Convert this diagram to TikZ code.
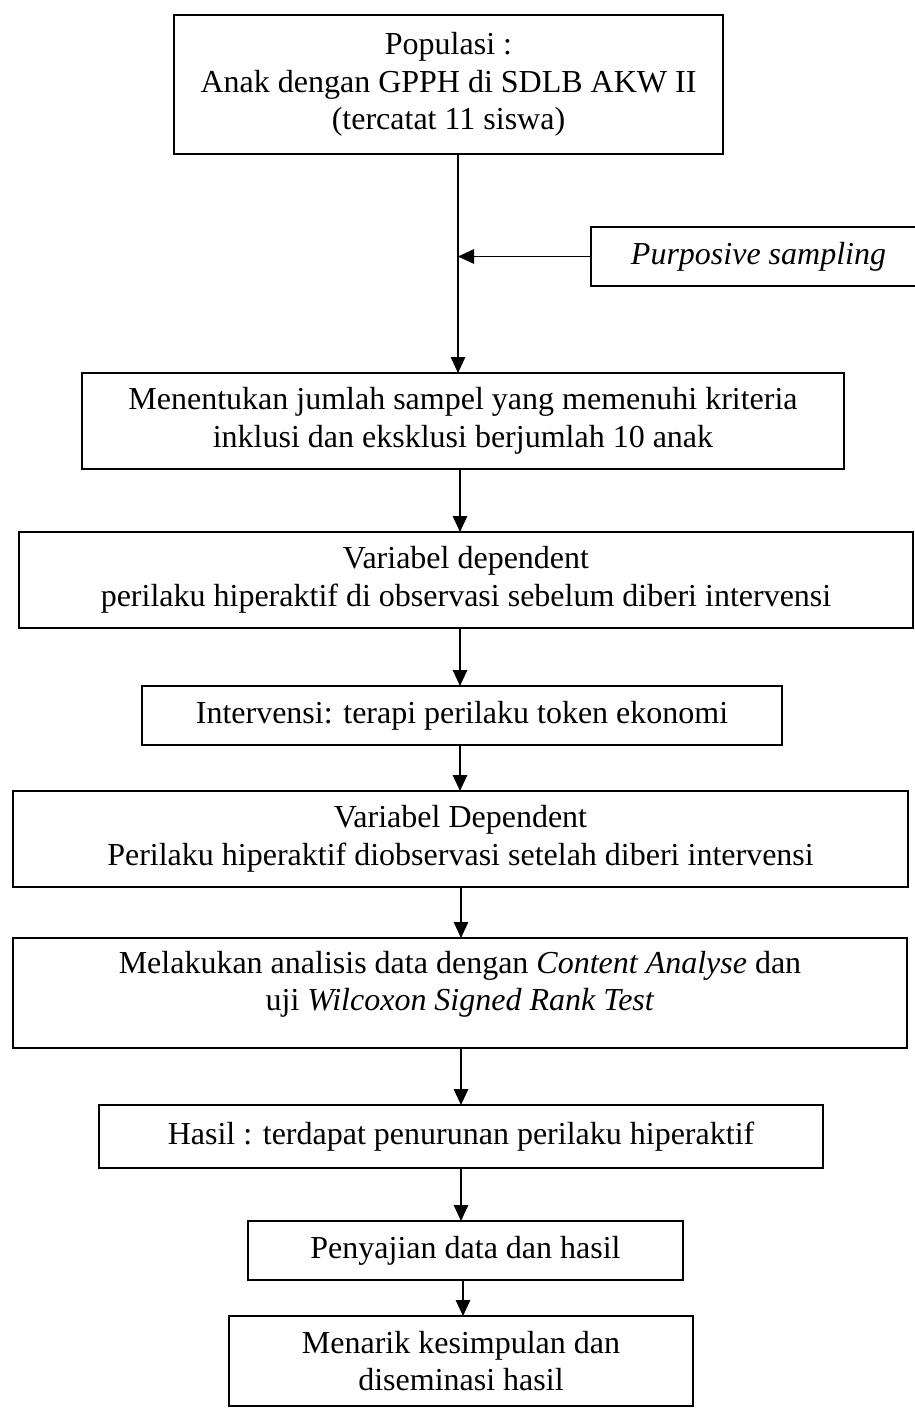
\documentclass[tikz,border=0pt]{standalone}
\usepackage{fontspec}
\setmainfont{Liberation Serif}
\usetikzlibrary{arrows.meta}
\begin{document}
\begin{tikzpicture}[x=0.5pt,y=-0.5pt,
  box/.style={draw, line width=1.05pt, inner sep=0pt, outer sep=0pt, align=center,
    font=\fontsize{16}{18.75}\selectfont},
  plain/.style={inner sep=0pt, align=center, font=\fontsize{16}{18.75}\selectfont},
  arr/.style={line width=0.85pt, -{Triangle[length=8pt,width=7.2pt]}}]
\useasboundingbox (0,0) rectangle (915,1408);

\node[box, minimum width=274.5pt, minimum height=69.5pt] (b1) at (448.5,84.5)
  {Populasi :\\ Anak dengan GPPH di SDLB AKW II\\ (tercatat 11 siswa)};
\node[box, minimum width=167.5pt, minimum height=29.5pt] (ps) at (758.5,256.5)
  {\textit{Purposive sampling}};
\node[box, minimum width=381pt, minimum height=48pt] (b2) at (463,421)
  {Menentukan jumlah sampel yang memenuhi kriteria\\ inklusi dan eksklusi berjumlah 10 anak};
\node[box, minimum width=447pt, minimum height=48pt] (b3) at (466,580)
  {Variabel dependent\\ perilaku hiperaktif di observasi sebelum diberi intervensi};
\node[box, minimum width=320pt, minimum height=29.5pt] (b4) at (462,715.5)
  {Intervensi: terapi perilaku token ekonomi};
\node[box, minimum width=447.5pt, minimum height=48pt] (b5) at (460.5,839)
  {Variabel Dependent\\ Perilaku hiperaktif diobservasi setelah diberi intervensi};
\node[box, minimum width=447pt, minimum height=55pt] (b6) at (460,993) {};
\node[plain] (t6) at (460,984.5)
  {Melakukan analisis data dengan \textit{Content Analyse} dan\\ uji \textit{Wilcoxon Signed Rank Test}};
\node[box, minimum width=362pt, minimum height=31.5pt] (b7) at (461,1136.5)
  {Hasil : terdapat penurunan perilaku hiperaktif};
\node[box, minimum width=217.5pt, minimum height=29.5pt] (b8) at (465.5,1250.5)
  {Penyajian data dan hasil};
\node[box, minimum width=232pt, minimum height=45pt] (b9) at (461,1361)
  {Menarik kesimpulan dan\\ diseminasi hasil};

\coordinate (a1) at (458,0);
\coordinate (a2) at (460,0);
\coordinate (a3) at (461,0);
\coordinate (a4) at (463,0);

\draw[arr] (b1.south -| a1) -- (b2.north -| a1);
\draw[arr] (ps.west) -- (ps.west -| a1);
\draw[arr] (b2.south -| a2) -- (b3.north -| a2);
\draw[arr] (b3.south -| a2) -- (b4.north -| a2);
\draw[arr] (b4.south -| a2) -- (b5.north -| a2);
\draw[arr] (b5.south -| a3) -- (b6.north -| a3);
\draw[arr] (b6.south -| a3) -- (b7.north -| a3);
\draw[arr] (b7.south -| a3) -- (b8.north -| a3);
\draw[arr] (b8.south -| a4) -- (b9.north -| a4);
\end{tikzpicture}
\end{document}
